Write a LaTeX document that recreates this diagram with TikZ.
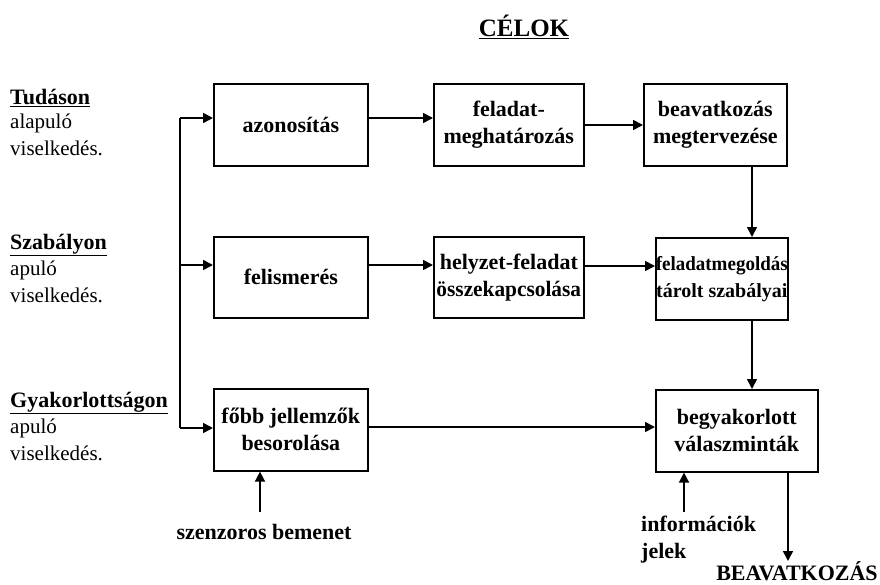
\documentclass[tikz,border=0pt]{standalone}
\usepackage{fontspec}
\setmainfont{Liberation Serif}
\usetikzlibrary{arrows.meta}
\begin{document}
\begin{tikzpicture}[x=1pt,y=-1pt,
  box/.style={draw,line width=1.6pt,inner sep=0pt,anchor=north west,align=center,font=\fontsize{22}{27}\selectfont\bfseries},
  arr/.style={line width=1.6pt,-{Triangle[length=10pt,width=10pt]}},
  ln/.style={line width=1.6pt},
  lbl/.style={anchor=west,font=\fontsize{21}{25}\selectfont,inner sep=0pt},
  blbl/.style={anchor=west,font=\fontsize{22}{25}\selectfont\bfseries,inner sep=0pt},
  txt/.style={font=\fontsize{22}{27}\selectfont\bfseries,inner sep=0pt}]
\useasboundingbox (0,0) rectangle (880,584);
% title
\node[font=\fontsize{25}{30}\selectfont\bfseries,inner sep=0pt] (title) at (524,27) {\underline{CÉLOK}};
% left labels
\node[blbl] (t1) at (10,98) {\underline{Tudáson}};
\node[lbl] (t2) at (10,123) {alapuló};
\node[lbl] (t3) at (10,148) {viselkedés.};
\node[blbl] (s1) at (10,245) {\underline{Szabályon}};
\node[lbl] (s2) at (10,270) {apuló};
\node[lbl] (s3) at (10,295) {viselkedés.};
\node[blbl] (g1) at (10,403) {\underline{Gyakorlottságon}};
\node[lbl] (g2) at (10,428) {apuló};
\node[lbl] (g3) at (10,453) {viselkedés.};
% boxes
\node[box,minimum width=154pt,minimum height=82pt] (a1) at (213,83) {azonosítás};
\node[box,minimum width=150pt,minimum height=82pt] (a2) at (433,83) {feladat-\\meghatározás};
\node[box,minimum width=143pt,minimum height=82pt] (a3) at (643,83) {beavatkozás\\megtervezése};
\node[box,minimum width=154pt,minimum height=81pt] (b1) at (213,236) {felismerés};
\node[box,minimum width=150pt,minimum height=81pt] (b2) at (433,236) {helyzet-feladat\\\scalebox{0.97}[1]{összekapcsolása}};
\node[box,minimum width=131pt,minimum height=82pt,font=\fontsize{20}{27}\selectfont\bfseries] (b3) at (655,237) {\scalebox{0.95}[1]{feladatmegoldás}\\tárolt szabályai};
\node[box,minimum width=154pt,minimum height=82pt] (c1) at (213,388) {főbb jellemzők\\besorolása};
\node[box,minimum width=162pt,minimum height=82pt] (c2) at (655,389) {begyakorlott\\válaszminták};
% bottom labels
\node[txt] (sz) at (264,532) {szenzoros bemenet};
\node[txt,anchor=north west,align=left] (inf) at (641,516) {információk\\jelek};
\node[txt] (be) at (797,571) {BEAVATKOZÁS};
% left bus
\coordinate (top) at (180,118);
\coordinate (mid) at (180,265);
\coordinate (bot) at (180,428);
\draw[ln] (bot) -- (top);
\draw[arr] (top) -- (a1.west |- top);
\draw[arr] (mid) -- (b1.west |- mid);
\draw[arr] (bot) -- (c1.west |- bot);
% row arrows
\draw[arr] (a1.east |- 0,118) -- (a2.west |- 0,118);
\draw[arr] (a2.east |- 0,125) -- (a3.west |- 0,125);
\draw[arr] (b1.east |- 0,265) -- (b2.west |- 0,265);
\draw[arr] (b2.east |- 0,266) -- (b3.west |- 0,266);
\draw[arr] (c1.east |- 0,427) -- (c2.west |- 0,427);
% vertical arrows
\draw[arr] (a3.south -| 752,0) -- (b3.north -| 752,0);
\draw[arr] (b3.south -| 752,0) -- (c2.north -| 752,0);
\coordinate (szt) at (260,512);
\draw[arr] (szt) -- (c1.south -| szt);
\coordinate (inft) at (684,512);
\draw[arr] (inft) -- (c2.south -| inft);
\coordinate (bet) at (788,561);
\draw[arr] (c2.south -| bet) -- (bet);
\end{tikzpicture}
\end{document}
